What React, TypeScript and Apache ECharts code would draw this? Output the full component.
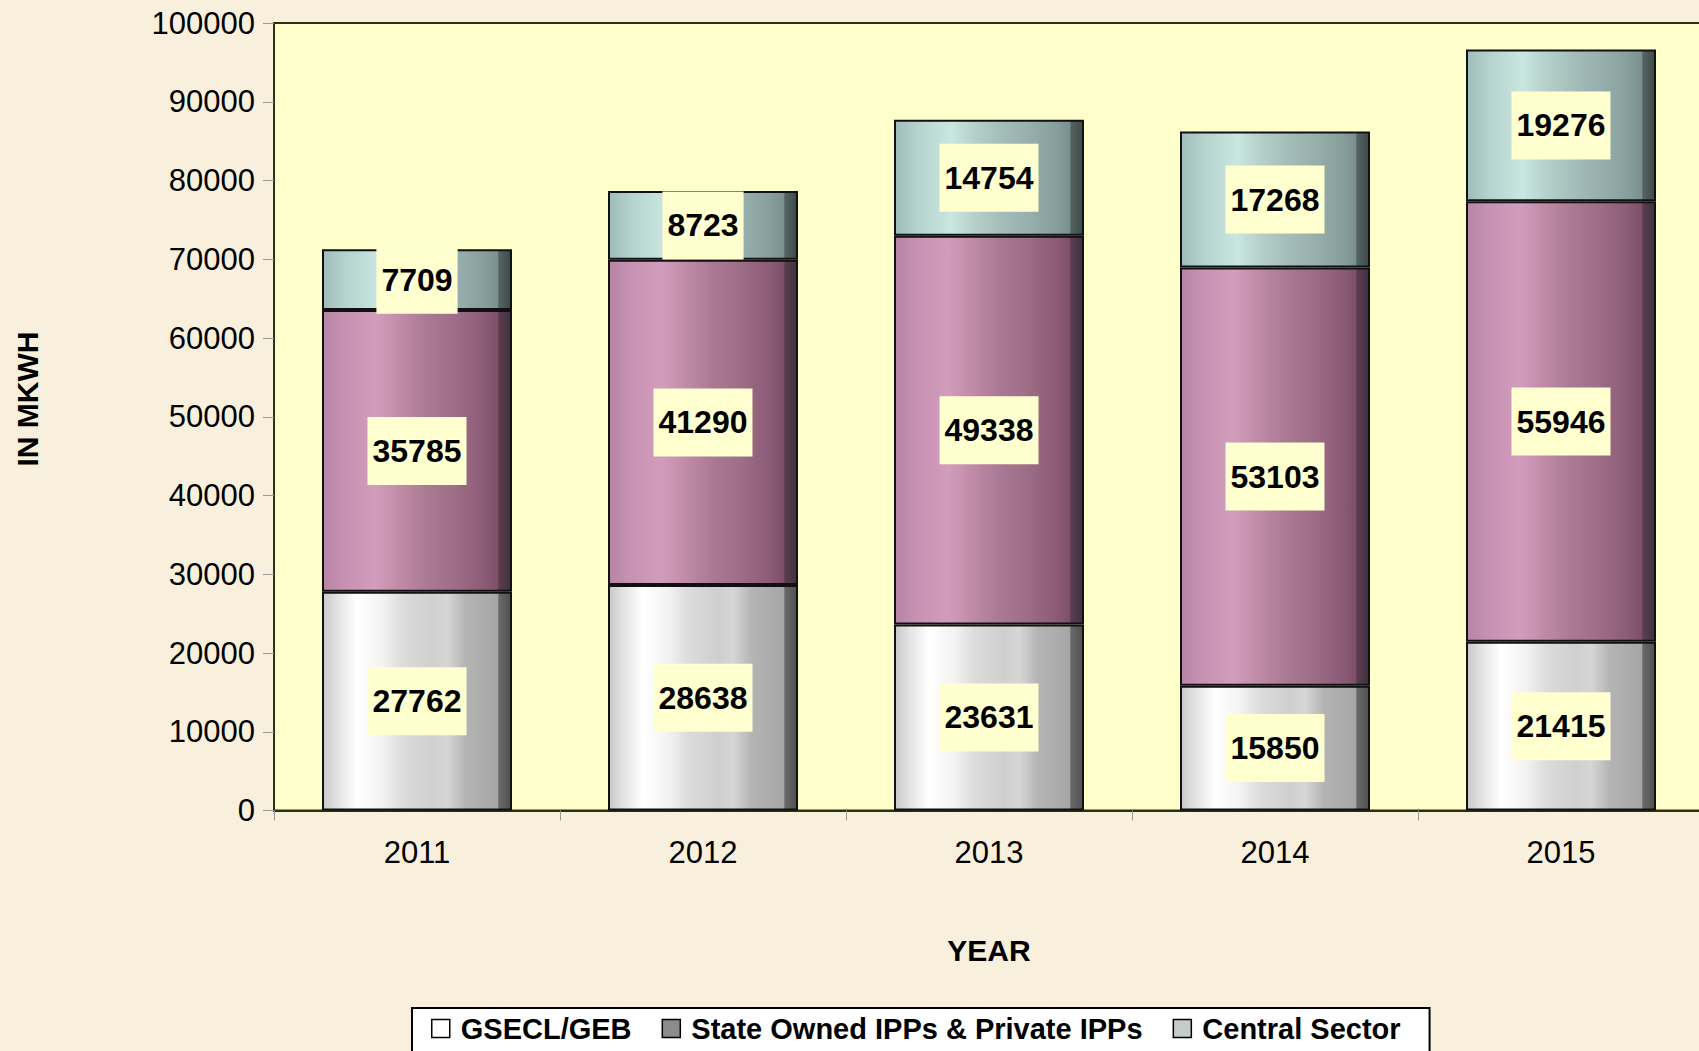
import React, { useEffect, useRef } from "react";
import * as echarts from "echarts";

const categories = ["2011", "2012", "2013", "2014", "2015"];
const gseclGeb = [27762, 28638, 23631, 15850, 21415];
const stateOwnedIpps = [35785, 41290, 49338, 53103, 55946];
const centralSector = [7709, 8723, 14754, 17268, 19276];
const seriesNames = ["GSECL/GEB", "State Owned IPPs & Private IPPs", "Central Sector"];
const yMin = 0;
const yMax = 100000;
const yInterval = 10000;

const FONT = "'Liberation Sans', Arial, sans-serif";

function grad(stops: [number, string][]) {
  return {
    type: "linear",
    x: 0,
    y: 0,
    x2: 1,
    y2: 0,
    colorStops: stops.map(([offset, color]) => ({ offset, color })),
  };
}

const whiteGrad = grad([
  [0, "#c8c8c8"],
  [0.08, "#e4e4e4"],
  [0.18, "#ffffff"],
  [0.32, "#f2f2f2"],
  [0.42, "#dcdcdc"],
  [0.58, "#cfcfcf"],
  [0.66, "#d6d6d6"],
  [0.76, "#b4b4b4"],
  [0.93, "#a6a6a6"],
  [0.935, "#6a6a6a"],
  [1, "#505050"],
]);
const pinkGrad = grad([
  [0, "#b684a4"],
  [0.1, "#c690b2"],
  [0.28, "#d29cbc"],
  [0.4, "#c28ca9"],
  [0.55, "#aa7a94"],
  [0.7, "#9e6e88"],
  [0.85, "#8c5c78"],
  [0.93, "#7e5068"],
  [0.935, "#5a3e50"],
  [1, "#403040"],
]);
const tealGrad = grad([
  [0, "#a0bcba"],
  [0.12, "#b6d2ce"],
  [0.3, "#cae6e0"],
  [0.42, "#b6d0cc"],
  [0.56, "#a4beba"],
  [0.72, "#96aeac"],
  [0.86, "#869e9c"],
  [0.93, "#7a9090"],
  [0.935, "#566464"],
  [1, "#3e4a4a"],
]);

export default function App() {
  const ref = useRef<HTMLDivElement>(null);

  useEffect(() => {
    if (!ref.current) return;
    const chart = echarts.init(ref.current, null, { renderer: "svg" });

    const label = {
      show: true,
      position: "inside",
      formatter: "{c}",
      fontFamily: FONT,
      fontSize: 32,
      fontWeight: "bold",
      color: "#000",
      backgroundColor: "#ffffd0",
      padding: [18, 5],
    };
    const itemBase = { borderColor: "#111", borderWidth: 2 };

    const option: any = {
      animation: false,
      backgroundColor: "#f8f0dd",
      textStyle: { fontFamily: FONT },
      grid: {
        left: 274,
        top: 23,
        width: 1430,
        height: 787.5,
        show: true,
        backgroundColor: "#ffffcc",
        borderColor: "#2e2e10",
        borderWidth: 2,
        containLabel: false,
        outerBoundsMode: "none",
      },
      legend: {
        left: 412,
        top: 1008,
        padding: [6, 29, 30, 19],
        backgroundColor: "#ffffff",
        borderColor: "#000",
        borderWidth: 2,
        borderRadius: 0,
        icon: "rect",
        itemWidth: 18,
        itemHeight: 18,
        itemGap: 30,
        textStyle: {
          fontFamily: FONT,
          fontSize: 29,
          fontWeight: "bold",
          color: "#000",
          padding: [0, 0, 0, 6],
        },
        data: [
          { name: seriesNames[0], itemStyle: { color: "#ffffff", borderColor: "#000", borderWidth: 1.5 } },
          { name: seriesNames[1], itemStyle: { color: "#8c8c8c", borderColor: "#000", borderWidth: 1.5 } },
          { name: seriesNames[2], itemStyle: { color: "#c4cccc", borderColor: "#000", borderWidth: 1.5 } },
        ],
      },
      xAxis: {
        type: "category",
        data: categories,
        name: "YEAR",
        nameLocation: "middle",
        nameGap: 125,
        nameTextStyle: { fontFamily: FONT, fontSize: 30, fontWeight: "bold", color: "#000" },
        axisLine: { lineStyle: { color: "#2e2e10", width: 2 } },
        axisTick: { show: true, length: 10, lineStyle: { color: "#999" } },
        axisLabel: { fontFamily: FONT, fontSize: 31, color: "#000", margin: 26 },
      },
      yAxis: {
        type: "value",
        min: yMin,
        max: yMax,
        interval: yInterval,
        splitLine: { show: false },
        axisLine: { show: true, lineStyle: { color: "#2e2e10", width: 2 } },
        axisTick: { show: true, length: 11, lineStyle: { color: "#999" } },
        axisLabel: {
          fontFamily: FONT,
          fontSize: 31,
          color: "#000",
          margin: 19,
          formatter: (v: number) => String(v),
        },
      },
      graphic: [
        {
          type: "text",
          x: 27,
          y: 399,
          rotation: Math.PI / 2,
          style: {
            text: "IN MKWH",
            font: `bold 30px ${FONT}`,
            fill: "#000",
            textAlign: "center",
            textVerticalAlign: "middle",
          },
        },
      ],
      series: [
        {
          name: seriesNames[0],
          type: "bar",
          stack: "total",
          barWidth: 190,
          data: gseclGeb,
          itemStyle: { ...itemBase, color: whiteGrad },
          label,
        },
        {
          name: seriesNames[1],
          type: "bar",
          stack: "total",
          barWidth: 190,
          data: stateOwnedIpps,
          itemStyle: { ...itemBase, color: pinkGrad },
          label,
        },
        {
          name: seriesNames[2],
          type: "bar",
          stack: "total",
          barWidth: 190,
          data: centralSector,
          itemStyle: { ...itemBase, color: tealGrad },
          label,
        },
      ],
    };

    chart.setOption(option);
    return () => chart.dispose();
  }, []);

  return (
    <div
      ref={ref}
      style={{ position: "absolute", left: 0, top: 0, width: 1699, height: 1051 }}
    />
  );
}
